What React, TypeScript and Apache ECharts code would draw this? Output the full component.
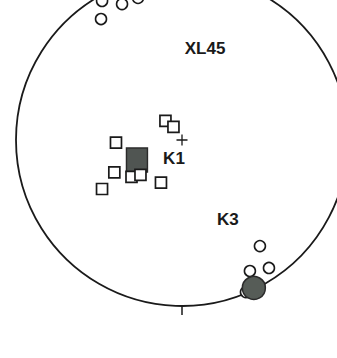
import React, { useEffect, useRef } from "react";
import * as echarts from "echarts";

// Stereonet data: [radius (0..1 of primitive circle), azimuth in degrees clockwise from north]
const openCircles: [number, number][] = [
  [0.877, 326.2],
  [0.895, 336.2],
  [0.966, 330.1],
  [0.896, 342.8],
  [0.793, 143.7],
  [0.932, 145.8],
  [0.889, 152.6],
  [0.994, 157.2],
];
const meanK3: [number, number][] = [[0.991, 154.1]];
const meanK1: [number, number][] = [[0.297, 246]];
const openSquares: [number, number][] = [
  [0.152, 319],
  [0.094, 326.8],
  [0.398, 267.8],
  [0.452, 244.4],
  [0.377, 233.8],
  [0.327, 229.9],
  [0.286, 206.3],
  [0.565, 238.5],
];
const centre: [number, number][] = [[0, 0]];
const labelNames: string[] = ["XL45", "K1", "K3"];
const labelPositions: [number, number][] = [
  [0.566, 14.2],
  [0.119, 204],
  [0.553, 150],
];

export default function App() {
  const ref = useRef<HTMLDivElement>(null);
  useEffect(() => {
    if (!ref.current) return;
    const chart = echarts.init(ref.current, null, { renderer: "svg" });
    const ink = "#1a1a1a";
    chart.setOption({
      animation: false,
      backgroundColor: "#fff",
      polar: { center: [182, 140], radius: 166 },
      angleAxis: {
        type: "value",
        min: 0,
        max: 360,
        interval: 180,
        startAngle: 90,
        clockwise: true,
        axisLine: { show: true, lineStyle: { color: ink, width: 1.8 } },
        axisTick: { show: true, inside: false, length: 9, lineStyle: { color: ink, width: 1.5 } },
        axisLabel: { show: false },
        splitLine: { show: false },
        splitArea: { show: false },
      },
      radiusAxis: {
        type: "value",
        min: 0,
        max: 1,
        show: false,
        axisLine: { show: false },
        axisTick: { show: false },
        axisLabel: { show: false },
        splitLine: { show: false },
      },
      series: [
        {
          type: "scatter",
          coordinateSystem: "polar",
          data: openCircles,
          symbol: "circle",
          symbolSize: 11,
          itemStyle: { color: "#fff", borderColor: ink, borderWidth: 1.6, opacity: 1 },
          silent: true,
        },
        {
          type: "scatter",
          coordinateSystem: "polar",
          data: meanK3,
          symbol: "circle",
          symbolSize: 23,
          itemStyle: { color: "#565c57", borderColor: "#2a2a2a", borderWidth: 1.5, opacity: 1 },
          silent: true,
        },
        {
          type: "scatter",
          coordinateSystem: "polar",
          data: meanK1,
          symbol: "rect",
          symbolSize: [21, 24],
          itemStyle: { color: "#505552", borderColor: "#2a2a2a", borderWidth: 1.5, opacity: 1 },
          silent: true,
        },
        {
          type: "scatter",
          coordinateSystem: "polar",
          data: openSquares,
          symbol: "rect",
          symbolSize: 11,
          itemStyle: { color: "#fff", borderColor: ink, borderWidth: 1.7, opacity: 1 },
          silent: true,
        },
        {
          type: "scatter",
          coordinateSystem: "polar",
          data: centre,
          symbol: "path://M4.4,0H5.6V10H4.4Z M0,4.4H10V5.6H0Z",
          symbolSize: 11,
          itemStyle: { color: ink, opacity: 1 },
          silent: true,
        },
        {
          type: "scatter",
          coordinateSystem: "polar",
          data: labelPositions.map((p, i) => ({ value: p, name: labelNames[i] })),
          symbolSize: 0,
          silent: true,
          itemStyle: { opacity: 1 },
          label: {
            show: true,
            position: "inside",
            formatter: "{b}",
            fontSize: 17,
            fontWeight: "bold",
            fontFamily: "Liberation Sans",
            color: ink,
            opacity: 1,
          },
        },
      ],
    });
    return () => chart.dispose();
  }, []);
  return (
    <div
      ref={ref}
      style={{ position: "absolute", left: 0, top: 0, width: 337, height: 358, background: "#fff" }}
    />
  );
}
